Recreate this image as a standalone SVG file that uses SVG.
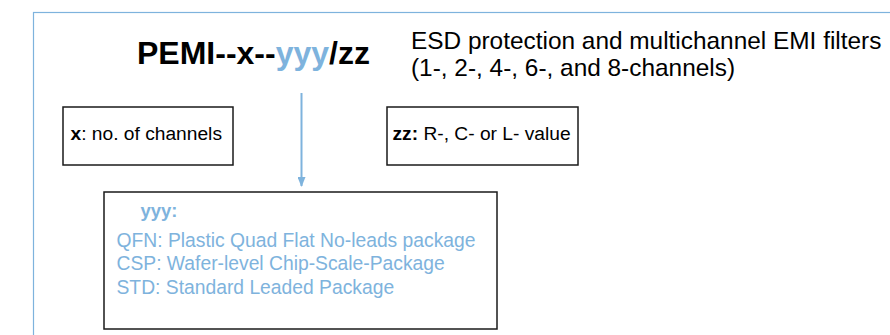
<svg xmlns="http://www.w3.org/2000/svg" width="890" height="335" viewBox="0 0 890 335">
<style>
text{font-family:"Liberation Sans",Arial,sans-serif;}
.box{fill:#fff;stroke:#1a1a1a;stroke-width:1.5;}
.blue{fill:#7eb3dd;}
.lbl{font-size:19.2px;fill:#000;}
</style>
<defs>
<marker id="ah" markerWidth="10" markerHeight="8" refX="9" refY="4" orient="auto" markerUnits="userSpaceOnUse">
<path d="M0,0 L10,4 L0,8 Z" fill="#7eb3dd"/>
</marker>
</defs>
<rect x="33.5" y="12.5" width="900" height="340" fill="#fff" stroke="#7eb3dd" stroke-width="1.2"/>
<g id="title">
<text x="137" y="64" font-size="32" font-weight="bold" fill="#000">PEMI--x--<tspan class="blue">yyy</tspan>/zz</text>
</g>
<g id="description">
<text x="411" y="49" font-size="24.4" fill="#000">ESD protection and multichannel EMI filters</text>
<text x="411" y="76" font-size="24.4" fill="#000">(1-, 2-, 4-, 6-, and 8-channels)</text>
</g>
<g id="node-x">
<rect class="box" x="63" y="107" width="170" height="58"/>
<text class="lbl" x="70.5" y="140"><tspan font-weight="bold">x</tspan>: no. of channels</text>
</g>
<g id="node-zz">
<rect class="box" x="387" y="107" width="191" height="58"/>
<text class="lbl" x="392.5" y="140"><tspan font-weight="bold">zz:</tspan> R-, C- or L- value</text>
</g>
<g id="node-yyy">
<rect class="box" x="104" y="192" width="393" height="137"/>
<text x="140.5" y="217" font-size="18.5" font-weight="bold" class="blue">yyy:</text>
<text x="116.5" y="246.5" font-size="19.3" class="blue">QFN: Plastic Quad Flat No-leads package</text>
<text x="116.5" y="270" font-size="19.3" class="blue">CSP: Wafer-level Chip-Scale-Package</text>
<text x="116.5" y="293.5" font-size="19.3" class="blue">STD: Standard Leaded Package</text>
</g>
<g id="connectors">
<line x1="301.5" y1="93" x2="301.5" y2="186" stroke="#7eb3dd" stroke-width="2" marker-end="url(#ah)"/>
</g>
</svg>
